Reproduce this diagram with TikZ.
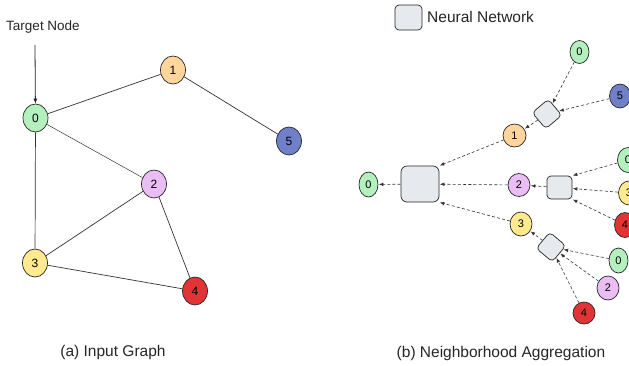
\documentclass[tikz,border=0pt]{standalone}
\usepackage{fontspec}
\setmainfont{Liberation Sans}
\usetikzlibrary{arrows.meta,shapes.geometric}
\definecolor{cgreen}{HTML}{B3F0BD}
\definecolor{cpeach}{HTML}{FFD59E}
\definecolor{cblue}{HTML}{6F80C9}
\definecolor{cpink}{HTML}{EBBDF5}
\definecolor{cyellow}{HTML}{FFEA8F}
\definecolor{cred}{HTML}{E23434}
\definecolor{cbox}{HTML}{E6E9ED}
\begin{document}
\begin{tikzpicture}[x=1pt,y=-1pt,
  gn/.style={ellipse,draw=black!85,line width=0.7pt,inner sep=0pt,minimum width=25pt,minimum height=28pt,font=\fontsize{12}{12}\selectfont},
  sn/.style={ellipse,draw=black!85,line width=0.7pt,inner sep=0pt,minimum width=21pt,minimum height=23pt,font=\fontsize{11}{11}\selectfont},
  nnbox/.style={draw=black!85,line width=0.7pt,fill=cbox,rounded corners=4pt,inner sep=0pt},
  edgeline/.style={line width=0.7pt,draw=black!80},
  agg/.style={draw=black!80,line width=0.6pt,dash pattern=on 3pt off 2.2pt,-{Latex[length=4.5pt,width=3.6pt]},shorten >=0.5pt},
  captext/.style={font=\fontsize{15.5}{18}\selectfont,text=black!85},
]
\useasboundingbox (0,0) rectangle (629,365);
\clip (0,0) rectangle (629,365);
\fill[white] (0,0) rectangle (629,365);

% ---------- (a) Input graph ----------
\node[font=\fontsize{13.5}{16}\selectfont,text=black!85] (tn) at (43,27) {Target Node};
\coordinate (ta) at (35,45);
\node[gn,fill=cgreen] (a0) at (35.5,118) {0};
\node[gn,fill=cpeach] (a1) at (173,70) {1};
\node[gn,fill=cpink] (a2) at (154,184) {2};
\node[gn,fill=cyellow] (a3) at (35,263) {3};
\node[gn,fill=cred] (a4) at (195,291) {4};
\node[gn,fill=cblue] (a5) at (289,141) {5};
\draw[line width=0.8pt,black!85,-{Latex[length=5pt,width=4pt]}] (ta) -- (a0);
\draw[edgeline] (a0) -- (a1);
\draw[edgeline] (a1) -- (a5);
\draw[edgeline,line width=0.5pt] (a0) -- (a2);
\draw[edgeline] (a0) -- (a3);
\draw[edgeline] (a2) -- (a3);
\draw[edgeline] (a2) -- (a4);
\draw[edgeline] (a3) -- (a4);
\node[captext] (capa) at (113,352) {(a) Input Graph};

% ---------- legend ----------
\node[nnbox,minimum width=27pt,minimum height=25pt] (leg) at (408.5,17.5) {};
\node[captext,anchor=west,inner sep=0pt] (legt) at (427,17) {Neural Network};

% ---------- (b) Neighborhood aggregation ----------
\node[sn,fill=cgreen,minimum width=19pt,minimum height=25pt] (b0) at (368.5,184.5) {0};
\node[nnbox,rounded corners=6pt,minimum width=38pt,minimum height=36pt] (B) at (420,184) {};
\node[sn,fill=cpeach,minimum width=23pt] (m1) at (514.5,135.5) {1};
\node[sn,fill=cpink,minimum width=22pt] (m2) at (519,185) {2};
\node[sn,fill=cyellow,minimum width=22pt,minimum height=24pt] (m3) at (521,224) {3};
\node[nnbox,minimum size=21pt,rotate=40] (T) at (547,114) {};
\node[nnbox,minimum width=25pt,minimum height=23pt] (M) at (559.5,187.5) {};
\node[nnbox,minimum size=21pt,rotate=-40] (U) at (551,247) {};
\node[sn,fill=cgreen,minimum width=19pt] (t0) at (579.5,52) {0};
\node[sn,fill=cblue,minimum height=24pt] (t5) at (620,96) {5};
\node[sn,fill=cgreen,minimum height=25pt] (r0) at (628,160) {0};
\node[sn,fill=cyellow,minimum height=24pt] (r3) at (629,193) {3};
\node[sn,fill=cred,minimum height=25pt] (r4) at (625,225) {4};
\node[sn,fill=cgreen,minimum width=19pt,minimum height=25pt] (u0) at (618.5,260.5) {0};
\node[sn,fill=cpink,minimum width=22pt,minimum height=24pt] (u2) at (608,288) {2};
\node[sn,fill=cred,minimum width=22pt,minimum height=22pt] (u4) at (584,313) {4};

\draw[agg] (t0) -- (T);
\draw[agg] (t5) -- (T);
\draw[agg] (T) -- (m1);
\draw[agg] (m1) -- (B.north east);
\draw[agg] (m2) -- (B);
\draw[agg] (m3) -- (B.south east);
\draw[agg] (B) -- (b0);
\draw[agg] (r0) -- (M.north east);
\draw[agg] (r3) -- (M);
\draw[agg] (r4) -- (M.south east);
\draw[agg] (M) -- (m2);
\draw[agg] (u0) -- (U);
\draw[agg] (u2) -- (U);
\draw[agg] (u4) -- (U);
\draw[agg] (U) -- (m3);
\node[captext] (capb) at (501,353) {(b) Neighborhood Aggregation};
\end{tikzpicture}
\end{document}
